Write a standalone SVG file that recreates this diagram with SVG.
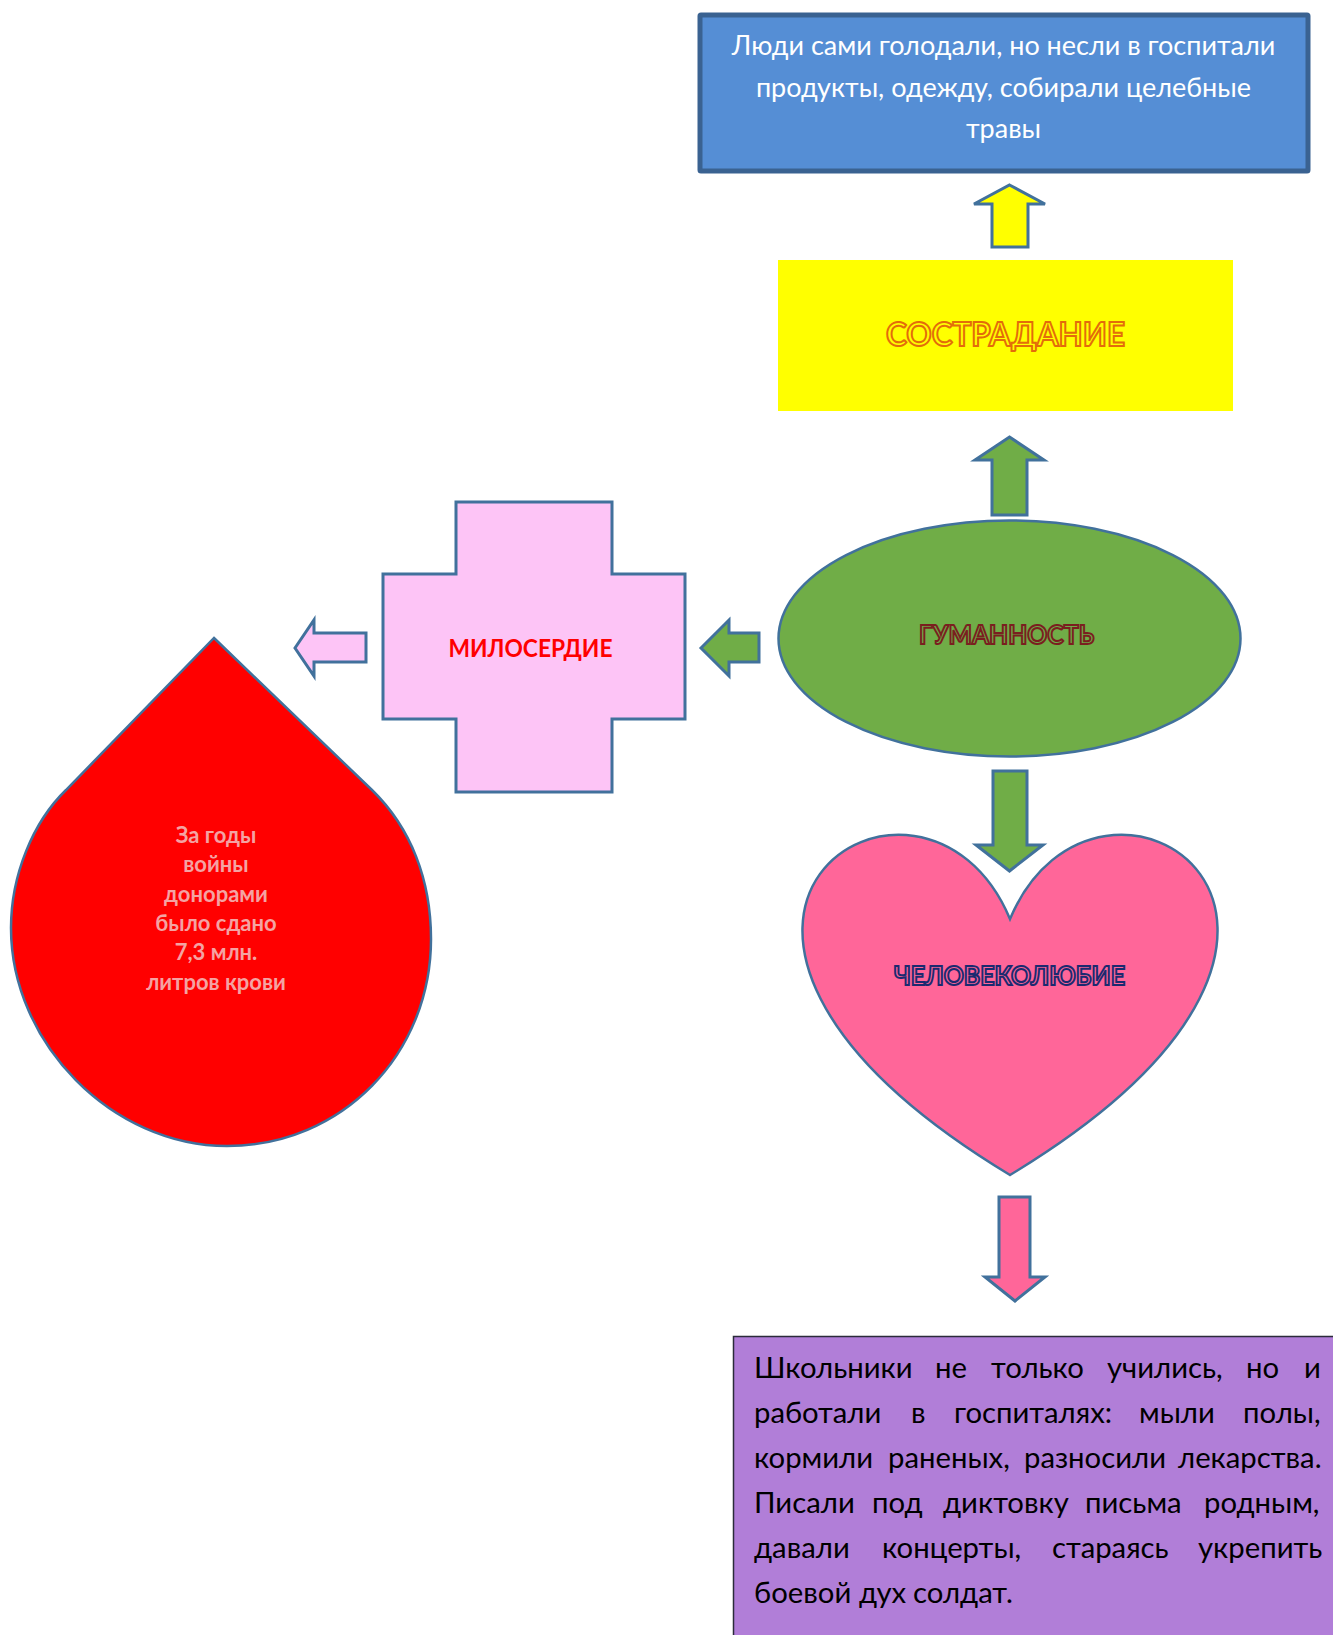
<svg xmlns="http://www.w3.org/2000/svg" width="1333" height="1635" viewBox="0 0 1333 1635">
<style>
text{font-family:"Lato","Open Sans","Liberation Sans",sans-serif}
.s{stroke:#41719c;stroke-width:3;stroke-linejoin:miter}
.n{stroke-width:2.5}
.g{fill:#70ad47}.p{fill:#fdc4f6}.h{fill:#ff6699}.y{fill:#ffff00}
.c{text-anchor:middle}
.t{font-size:27px;fill:#fff}
.b{font-size:29.3px;fill:#000}
.o{font-weight:700}
.d{font-size:22px;font-weight:700;fill:#f4a3a3}
</style>
<rect width="1333" height="1635" fill="#fff"/>
<g id="connectors">
<path class="s y" d="M1009.5,185L1045,204H1028V247H992V204H974Z"/>
<path class="s g" d="M1009.5,437L1044,460H1027V515H992V460H975Z"/>
<path class="s g" d="M701,648L729,620V633H759V662H729V676Z"/>
<path class="s p" d="M295,648L314,620V633H366V662H314V676Z"/>
<path class="s g" d="M993,771H1027V845H1043L1009.5,871L976,845H993Z"/>
<path class="s h" d="M999,1197H1030V1277H1045L1015,1301L985,1277H999Z"/>
</g>
<g id="node-people">
<rect x="700" y="15" width="608" height="156" fill="#558ed5" stroke="#3a6291" stroke-width="5" rx="1"/>
<text class="t c" x="1003.5" y="55">Люди сами голодали, но несли в госпитали</text>
<text class="t c" x="1003.5" y="97">продукты, одежду, собирали целебные</text>
<text class="t c" x="1003.5" y="138">травы</text>
</g>
<g id="node-compassion">
<rect x="778" y="260" width="455" height="151" fill="#ffff00"/>
<text class="o" x="886" y="346" font-size="33" fill="#ffff00" stroke="#e36c0a" stroke-width="2" textLength="239" lengthAdjust="spacingAndGlyphs">СОСТРАДАНИЕ</text>
</g>
<g id="node-humanity">
<ellipse class="s g n" cx="1009.5" cy="638.5" rx="231" ry="118"/>
<text class="o" x="919" y="644" font-size="26" fill="#70ad47" stroke="#7a1f1f" stroke-width="2" textLength="175" lengthAdjust="spacingAndGlyphs">ГУМАННОСТЬ</text>
</g>
<g id="node-mercy">
<path class="s p" d="M456,502H612V574H685V719H612V792H456V719H383V574H456Z"/>
<text class="o" x="448.5" y="657" font-size="25" fill="#ff0000" textLength="164" lengthAdjust="spacingAndGlyphs">МИЛОСЕРДИЕ</text>
</g>
<g id="node-blood">
<path class="s n" fill="#ff0000" d="M214,638L372,790C411,828 431,880 431,939C431,1054 342,1146 227,1146C112,1146 11,1043 11,928C11,875 33,822 66,790Z"/>
<text class="c d" x="216" y="843">За годы</text>
<text class="c d" x="216" y="872">войны</text>
<text class="c d" x="216" y="902">донорами</text>
<text class="c d" x="216" y="931">было сдано</text>
<text class="c d" x="216" y="960">7,3 млн.</text>
<text class="c d" x="216" y="990">литров крови</text>
</g>
<g id="node-love">
<path class="s h n" d="M1010,919C1097,712 1430,921 1010,1175C590,921 923,712 1010,919Z"/>
<text class="o" x="894" y="985" font-size="26" fill="#ff6699" stroke="#1c2a70" stroke-width="2" textLength="231" lengthAdjust="spacingAndGlyphs">ЧЕЛОВЕКОЛЮБИЕ</text>
</g>
<g id="node-pupils">
<rect x="733.5" y="1336.5" width="610" height="310" fill="#b17ed8" stroke="#2b2b3a" stroke-width="1.5"/>
<text class="b" y="1378"><tspan x="754">Школьники</tspan><tspan x="935">не</tspan><tspan x="991">только</tspan><tspan x="1107">учились,</tspan><tspan x="1246">но</tspan><tspan x="1304">и</tspan></text>
<text class="b" y="1423"><tspan x="754">работали</tspan><tspan x="911">в</tspan><tspan x="954">госпиталях:</tspan><tspan x="1139">мыли</tspan><tspan x="1243">полы,</tspan></text>
<text class="b" y="1468"><tspan x="754">кормили</tspan><tspan x="888">раненых,</tspan><tspan x="1024">разносили</tspan><tspan x="1178">лекарства.</tspan></text>
<text class="b" y="1513"><tspan x="754">Писали</tspan><tspan x="872">под</tspan><tspan x="943">диктовку</tspan><tspan x="1085">письма</tspan><tspan x="1204">родным,</tspan></text>
<text class="b" y="1558"><tspan x="754">давали</tspan><tspan x="882">концерты,</tspan><tspan x="1052">стараясь</tspan><tspan x="1198">укрепить</tspan></text>
<text class="b" y="1603"><tspan x="754">боевой</tspan><tspan x="859">дух</tspan><tspan x="913">солдат.</tspan></text>
</g>
</svg>
